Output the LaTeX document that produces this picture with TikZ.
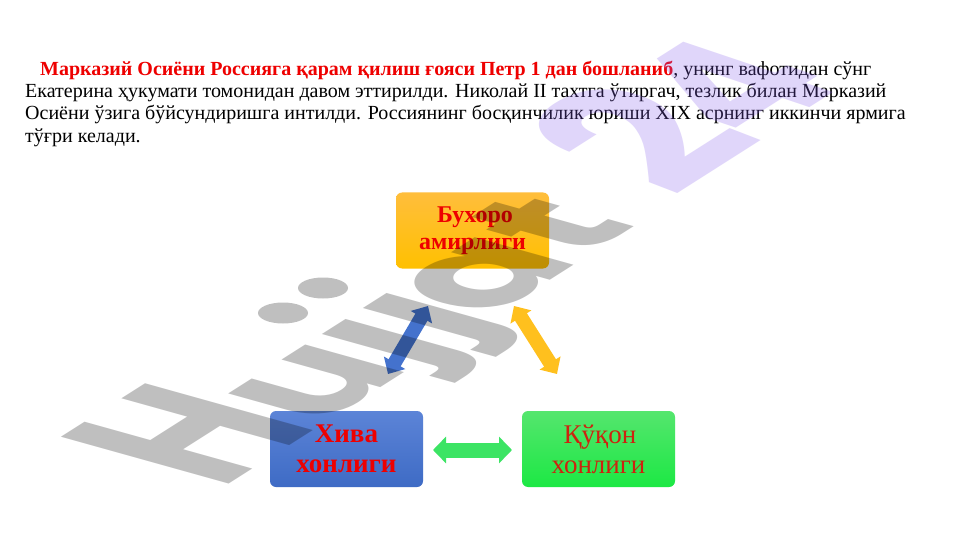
\documentclass[tikz,border=0pt]{standalone}
\usepackage{fontspec}
\setmainfont{Liberation Serif}
\newfontfamily\wmfont{Poppins}
\usetikzlibrary{arrows.meta}
\definecolor{wmgray}{RGB}{0,0,0}
\definecolor{wmlilac}{RGB}{132,92,236}
\definecolor{bodyred}{RGB}{238,0,0}
\definecolor{orangeTop}{RGB}{255,190,60}
\definecolor{orangeBot}{RGB}{255,192,0}
\definecolor{blueTop}{RGB}{92,132,215}
\definecolor{blueBot}{RGB}{62,107,197}
\definecolor{greenTop}{RGB}{85,230,110}
\definecolor{greenBot}{RGB}{28,232,68}
\tikzset{
  bodyline/.style={anchor=base west,inner sep=0pt,font=\fontsize{20}{22}\selectfont},
  panel/.style={rounded corners=6pt,minimum width=153pt,minimum height=76pt,inner sep=0pt,align=center,text=bodyred,font=\fontsize{24}{27}\selectfont},
  bigpanel/.style={panel,font=\fontsize{27}{30}\selectfont},
  wmark/.style={anchor=base west,inner sep=0pt,transform shape,text opacity=0.25,font=\wmfont\bfseries\fontsize{100}{100}\selectfont},
  link/.style={line width=14pt,{Triangle[length=13pt,width=24pt]}-{Triangle[length=13pt,width=24pt]}},
  widelink/.style={line width=15pt,{Triangle[length=13pt,width=26pt]}-{Triangle[length=13pt,width=26pt]}}
}
\begin{document}
\begin{tikzpicture}[x=1pt,y=-1pt]
\useasboundingbox (0,0) rectangle (961,540);
\fill[white] (0,0) rectangle (961,540);
% body text
\node[bodyline] (l1) at (40,76) {\textcolor{bodyred}{\bfseries Марказий Осиёни Россияга қарам қилиш ғояси Петр 1 дан бошланиб}, унинг вафотидан сўнг};
\node[bodyline] (l2) at (25,98) {Екатерина ҳукумати томонидан давом эттирилди. Николай II тахтга ўтиргач, тезлик билан Марказий};
\node[bodyline] (l3) at (25,120) {Осиёни ўзига бўйсундиришга интилди. Россиянинг босқинчилик юриши XIX асрнинг иккинчи ярмига};
\node[bodyline] (l4) at (25,143) {тўғри келади.};
% boxes
\node[panel,top color=orangeTop,bottom color=orangeBot] (bukhara) at (472.5,230.5) {\bfseries\hspace*{5pt}Бухоро\\\bfseries амирлиги};
\node[bigpanel,top color=blueTop,bottom color=blueBot] (khiva) at (346.5,449) {\bfseries Хива\\\bfseries хонлиги};
\node[bigpanel,top color=greenTop,bottom color=greenBot,text={rgb,255:red,205;green,35;blue,15}] (qoqon) at (598.5,449) {\hspace*{3pt}Қўқон\\хонлиги\ };
% arrows
\coordinate (b1) at (428,306); \coordinate (k1) at (388,374);
\coordinate (b2) at (514,306); \coordinate (q1) at (557,374);
\coordinate (k2) at (433,450); \coordinate (q2) at (512,450);
\draw[link,color={rgb,255:red,68;green,114;blue,205}] (b1) -- (k1);
\draw[link,color={rgb,255:red,255;green,192;blue,30}] (b2) -- (q1);
\draw[widelink,color={rgb,255:red,60;green,228;blue,100}] (k2) -- (q2);
% watermark
\node[wmark,text=wmgray,cm={1.385,0.88,-2.39,0.667,(220.5,489.5)}] (wmH) at (0,0) {H};
\node[wmark,text=wmgray,cm={1.385,0.88,-1.77,0.494,(217.7,491.3)}] (wmu) at (0,0) {\phantom{H}u};
\begin{scope}
\clip (319,332) -- (469,237) -- (630,402) -- (410,482) -- cycle;
\node[wmark,text=wmgray,cm={1.385,0.88,-1.77,0.494,(217.7,491.3)}] (wmj) at (0,0) {\phantom{Hu}jj};
\end{scope}
\fill[black,opacity=0.25] (283,313) ellipse [x radius=25pt,y radius=10.5pt];
\fill[black,opacity=0.25] (323,288) ellipse [x radius=25pt,y radius=10.5pt];
\node[wmark,text=wmgray,cm={1.385,0.88,-1.77,0.494,(212.2,494.8)}] (wmat) at (0,0) {\phantom{Hujj}at};
\node[wmark,text=wmlilac,cm={1.66,1.056,-2.23,0.86,(673.4,199.2)}] (wm2) at (0,0) {2};
\node[wmark,text=wmlilac,cm={1.385,0.88,-2.08,0.70,(676.7,191.9)}] (wm4) at (0,0) {\phantom{2}4};
\end{tikzpicture}
\end{document}
